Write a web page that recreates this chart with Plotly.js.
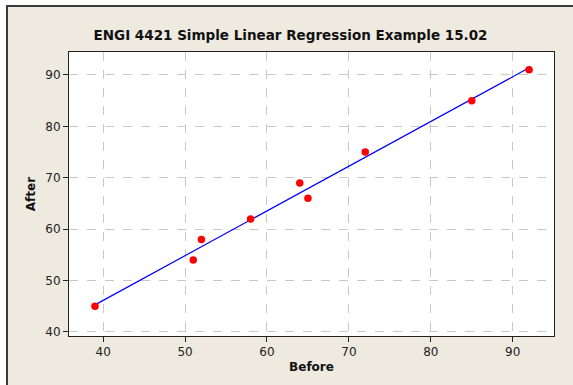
<!DOCTYPE html>
<html>
<head>
<meta charset="utf-8">
<script src="https://cdn.plot.ly/plotly-3.0.1.min.js"></script>
<style>
html,body{margin:0;padding:0;background:#ffffff;width:573px;height:385px;overflow:hidden;}
#chart{position:absolute;left:6px;top:5px;width:567px;height:380px;border-left:2px solid #3a3a3a;border-top:2px solid #3a3a3a;background:#eeeae0;}
</style>
</head>
<body>
<div id="chart"></div>
<script>
var before = [39, 51, 52, 58, 64, 65, 72, 85, 92];
var after = [45, 54, 58, 62, 69, 66, 75, 85, 91];
var fitX = [39, 92];
var fitY = [45.28, 91.39];
var xTicks = [40, 50, 60, 70, 80, 90];
var yTicks = [40, 50, 60, 70, 80, 90];

var traces = [
  {x: fitX, y: fitY, mode: 'lines', line: {color: '#0000ff', width: 1.2}, hoverinfo: 'skip'},
  {x: before, y: after, mode: 'markers', marker: {color: '#ff0000', size: 7.5}}
];

var axisCommon = {
  showline: true, linecolor: '#222222', linewidth: 1, mirror: true,
  ticks: 'outside', ticklen: 5, tickcolor: '#222222', tickwidth: 1,
  showgrid: true, gridcolor: '#c8c8c8', griddash: 'dash', gridwidth: 1,
  zeroline: false, tickfont: {family: 'DejaVu Sans', size: 12, color: '#222222'}
};

var layout = {
  width: 565, height: 378,
  margin: {l: 61, r: 19, t: 45, b: 49},
  paper_bgcolor: '#eeeae0', plot_bgcolor: '#ffffff',
  showlegend: false,
  title: {text: '<b>ENGI 4421 Simple Linear Regression Example 15.02</b>', x: 0.5, xanchor: 'center', y: 0.925, yanchor: 'middle',
          font: {family: 'DejaVu Sans', size: 13.5, color: '#111111'}},
  xaxis: Object.assign({}, axisCommon, {range: [35.83, 95.04], tickvals: xTicks, ticktext: xTicks.map(String),
    title: {text: '<b>Before</b>', font: {family: 'DejaVu Sans', size: 12, color: '#111111'}, standoff: 4}}),
  yaxis: Object.assign({}, axisCommon, {range: [39.22, 94.47], tickvals: yTicks, ticktext: yTicks.map(String),
    title: {text: '<b>After</b>', font: {family: 'DejaVu Sans', size: 12, color: '#111111'}, standoff: 7}})
};

Plotly.newPlot('chart', traces, layout, {displayModeBar: false, staticPlot: true});
</script>
</body>
</html>
